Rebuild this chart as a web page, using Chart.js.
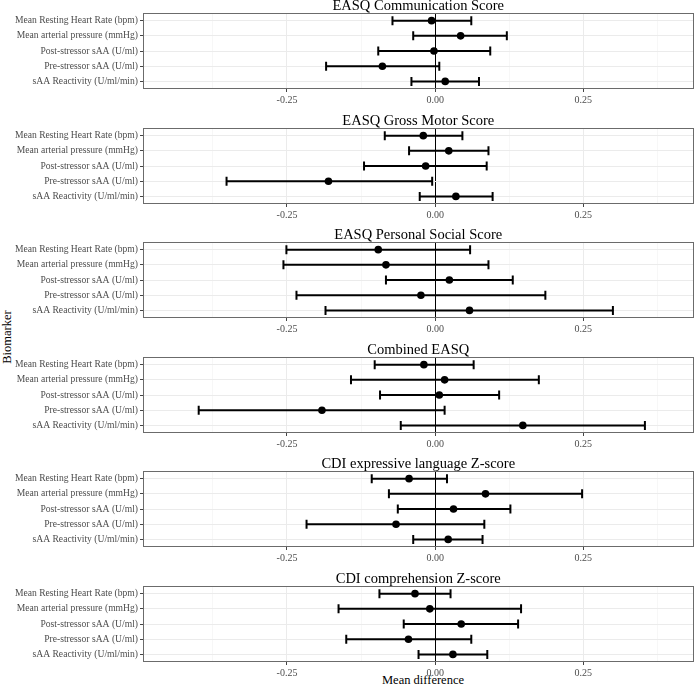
<!DOCTYPE html>
<html>
<head>
<meta charset="utf-8">
<script src="https://cdn.jsdelivr.net/npm/chart.js@4"></script>
<style>
  html, body { margin:0; padding:0; background:#fff; }
  body { width:700px; height:685px; position:relative; overflow:hidden; font-family:"Liberation Serif", serif; }
  .panel { position:absolute; left:0; width:700px; height:105px; }
  .lbl { position:absolute; font-family:"Liberation Serif", serif; font-size:12.5px; color:#000; white-space:nowrap; }
</style>
</head>
<body>
<div class="lbl" id="ytitle" style="left:7px; top:337px; transform:translate(-50%,-50%) rotate(-90deg);">Biomarker</div>
<div class="lbl" id="xtitle" style="left:423px; top:680px; transform:translate(-50%,-50%);">Mean difference</div>
<script>
// ---------- data ----------
const categories = ["Mean Resting Heart Rate (bpm)", "Mean arterial pressure (mmHg)", "Post-stressor sAA (U/ml)", "Pre-stressor sAA (U/ml)", "sAA Reactivity (U/ml/min)"];
const panelTitles = ["EASQ Communication Score", "EASQ Gross Motor Score", "EASQ Personal Social Score", "Combined EASQ", "CDI expressive language Z-score", "CDI comprehension Z-score"];

const commMean = [-0.006, 0.043, -0.002, -0.089, 0.017];
const commLo   = [-0.072, -0.037, -0.096, -0.184, -0.040];
const commHi   = [0.061, 0.121, 0.093, 0.007, 0.074];

const grossMean = [-0.020, 0.023, -0.016, -0.180, 0.035];
const grossLo   = [-0.085, -0.044, -0.120, -0.352, -0.026];
const grossHi   = [0.046, 0.090, 0.087, -0.005, 0.097];

const socialMean = [-0.096, -0.083, 0.024, -0.024, 0.058];
const socialLo   = [-0.251, -0.256, -0.083, -0.234, -0.185];
const socialHi   = [0.059, 0.090, 0.131, 0.186, 0.300];

const combMean = [-0.019, 0.016, 0.007, -0.191, 0.148];
const combLo   = [-0.102, -0.142, -0.093, -0.399, -0.058];
const combHi   = [0.065, 0.175, 0.108, 0.016, 0.354];

const exprMean = [-0.044, 0.085, 0.031, -0.066, 0.022];
const exprLo   = [-0.107, -0.078, -0.063, -0.217, -0.037];
const exprHi   = [0.020, 0.248, 0.127, 0.083, 0.080];

const compMean = [-0.034, -0.009, 0.044, -0.045, 0.030];
const compLo   = [-0.094, -0.163, -0.053, -0.150, -0.028];
const compHi   = [0.026, 0.145, 0.140, 0.061, 0.088];

const xMajorTicks = [-0.25, 0, 0.25];
const xMajorLabels = ["-0.25", "0.00", "0.25"];
const xMinorTicks = [-0.375, -0.125, 0.125, 0.375];

const panelMeans = [commMean, grossMean, socialMean, combMean, exprMean, compMean];
const panelLos = [commLo, grossLo, socialLo, combLo, exprLo, compLo];
const panelHis = [commHi, grossHi, socialHi, combHi, exprHi, compHi];

// ---------- drawing ----------
const FONT = "Liberation Serif";
const borderPlugin = {
  id: 'panelBorder',
  afterDatasetsDraw(chart) {
    const a = chart.chartArea, ctx = chart.ctx;
    ctx.save();
    ctx.strokeStyle = '#6b6b6b';
    ctx.lineWidth = 1;
    ctx.strokeRect(Math.round(a.left) + 0.5, Math.round(a.top) + 0.5, Math.round(a.right - a.left) - 1, Math.round(a.bottom - a.top) - 1);
    ctx.restore();
  }
};

const allTicks = xMajorTicks.concat(xMinorTicks).sort((a, b) => a - b);

function makePanel(idx) {
  const div = document.createElement('div');
  div.className = 'panel';
  div.style.top = (idx * 114.6).toFixed(1) + 'px';
  const cv = document.createElement('canvas');
  div.appendChild(cv);
  document.body.appendChild(div);

  const means = panelMeans[idx], lo = panelLos[idx], hi = panelHis[idx];
  const datasets = categories.map((c, i) => ({
    data: [{x: lo[i], y: c}, {x: hi[i], y: c}],
    showLine: true,
    borderColor: '#000',
    borderWidth: 2,
    pointStyle: 'line',
    pointRotation: 90,
    pointRadius: 4.5,
    pointHoverRadius: 4.5,
    pointBorderWidth: 2,
    pointBorderColor: '#000',
    order: 2
  }));
  datasets.push({
    data: categories.map((c, i) => ({x: means[i], y: c})),
    showLine: false,
    pointStyle: 'circle',
    pointRadius: 3.8,
    pointHoverRadius: 3.8,
    backgroundColor: '#000',
    borderColor: '#000',
    borderWidth: 0,
    order: 1
  });

  new Chart(cv, {
    type: 'scatter',
    data: { datasets },
    plugins: [borderPlugin],
    options: {
      responsive: true,
      maintainAspectRatio: false,
      animation: false,
      events: [],
      layout: { padding: { left: 0, right: 5, top: 0, bottom: 0 } },
      plugins: {
        legend: { display: false },
        tooltip: { enabled: false },
        title: {
          display: true,
          text: panelTitles[idx],
          fullSize: false,
          color: '#000',
          font: { family: FONT, size: 14.5, weight: 'normal', lineHeight: 0.9 },
          padding: { top: 0, bottom: 0 }
        }
      },
      scales: {
        x: {
          type: 'linear',
          min: -0.493,
          max: 0.436,
          afterBuildTicks: (s) => { s.ticks = allTicks.map(v => ({ value: v })); },
          afterFit: (s) => { s.height = 16; },
          border: { display: false },
          grid: {
            color: (ctx) => {
              const v = ctx.tick ? ctx.tick.value : null;
              if (v === 0) return '#000';
              return xMajorTicks.includes(v) ? '#ebebeb' : '#f3f3f3';
            },
            lineWidth: (ctx) => {
              const v = ctx.tick ? ctx.tick.value : null;
              return xMajorTicks.includes(v) ? 1 : 0.7;
            },
            tickColor: (ctx) => {
              const v = ctx.tick ? ctx.tick.value : null;
              return xMajorTicks.includes(v) ? '#444' : 'rgba(0,0,0,0)';
            },
            tickLength: 3
          },
          ticks: {
            autoSkip: false,
            maxRotation: 0,
            padding: 2,
            color: '#4d4d4d',
            font: { family: FONT, size: 10 },
            callback: (v) => {
              const k = xMajorTicks.indexOf(v);
              return k >= 0 ? xMajorLabels[k] : '';
            }
          }
        },
        y: {
          type: 'category',
          labels: categories,
          offset: true,
          afterFit: (s) => { s.width = 143; },
          border: { display: false },
          grid: {
            color: '#ebebeb',
            lineWidth: 1,
            tickColor: '#444',
            tickLength: 3,
            offset: false
          },
          ticks: {
            autoSkip: false,
            padding: 2,
            color: '#4d4d4d',
            font: { family: FONT, size: 9.6 }
          }
        }
      }
    }
  });
}

for (let i = 0; i < panelTitles.length; i++) makePanel(i);
</script>
</body>
</html>
